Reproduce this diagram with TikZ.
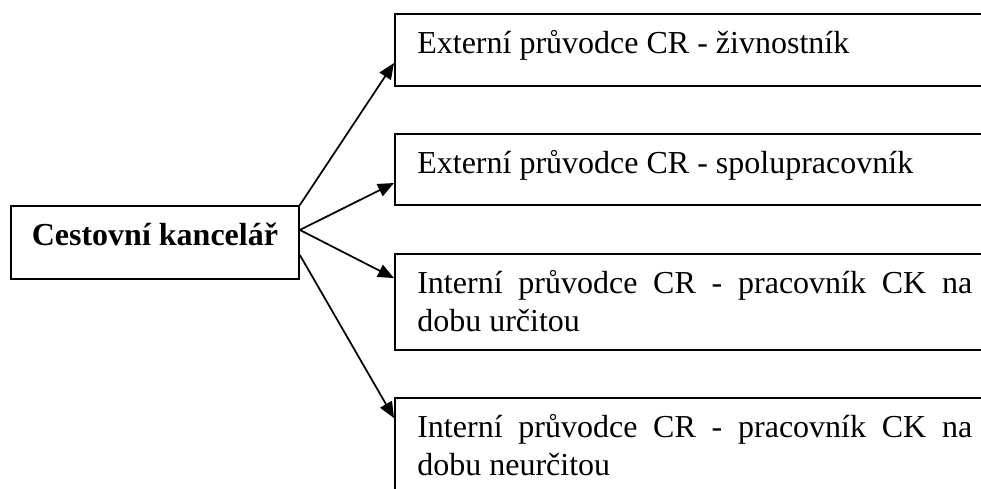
\documentclass[tikz,border=0pt]{standalone}
\usepackage{fontspec}
\setmainfont{Liberation Serif}
\usetikzlibrary{arrows.meta}

\tikzset{
  frame/.style={draw=black, line width=0.7pt, rectangle, inner ysep=0pt,
    font=\fontsize{12}{13.9}\selectfont},
  targetbox/.style={frame, inner xsep=8.4pt, anchor=north west, align=left,
    text height=15pt},
  sourcebox/.style={frame, inner xsep=0pt, anchor=north west,
    minimum width=108pt, text height=15pt, text depth=12.4pt,
    font=\fontsize{12}{13.9}\selectfont\bfseries},
  arr/.style={line width=0.65pt, -{Triangle[length=6pt,width=5pt]}}
}
\newcommand{\jtext}[1]{\parbox[t]{208.1pt}{\parindent=0pt\tolerance=10000 #1}}

\begin{document}
\begin{tikzpicture}[x=0.375pt, y=-0.375pt]
  \useasboundingbox (0,0) rectangle (981,488);
  \fill[white] (0,0) rectangle (981,488);
  \clip (0,0) rectangle (981,488);

  % source
  \node[sourcebox] (main) at (10,205) {Cestovní kancelář};

  % targets (their right sides run off the page)
  \node[targetbox, text depth=12pt] (box1) at (394,13)
    {\jtext{Externí průvodce CR - živnostník}};
  \node[targetbox, text depth=11.6pt] (box2) at (394,133)
    {\jtext{Externí průvodce CR - spolupracovník}};
  \node[targetbox, text depth=21pt] (box3) at (394,253)
    {\jtext{Interní průvodce CR - pracovník CK na\linebreak dobu určitou}};
  \node[targetbox, text depth=40pt] (box4) at (394,397)
    {\jtext{Interní průvodce CR - pracovník CK na\linebreak dobu neurčitou}};

  % connectors
  \draw[arr] (main.north east) -- ([yshift=-18.75pt]box1.north west);
  \draw[arr] ([yshift=4.7pt]main.east) -- ([yshift=-18.75pt]box2.north west);
  \draw[arr] ([yshift=4.7pt]main.east) -- ([yshift=-9.4pt]box3.north west);
  \draw[arr] ([yshift=-4.7pt]main.east) -- ([yshift=-7.9pt]box4.north west);
\end{tikzpicture}
\end{document}
